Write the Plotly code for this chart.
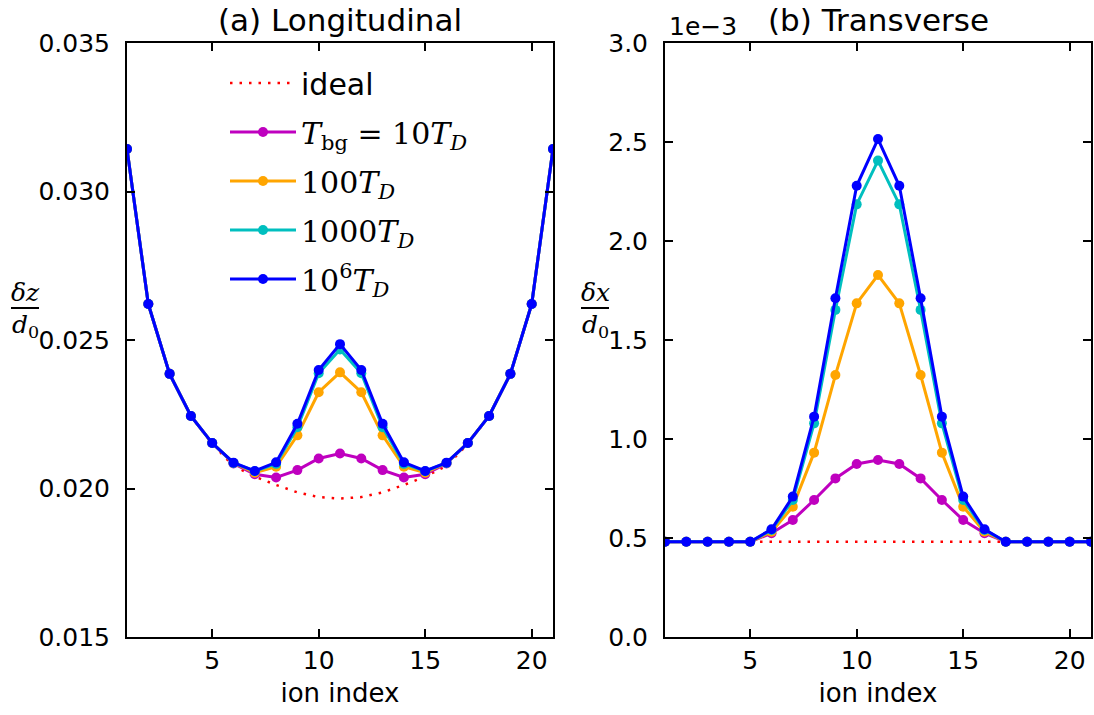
import plotly.graph_objects as go

W, H = 1094, 715

ion_index = list(range(1, 22))

# (a) Longitudinal: delta z / d0
long_ideal = [0.03143, 0.02621, 0.02386, 0.02244, 0.02150, 0.02076, 0.02040, 0.02012, 0.01987, 0.01971, 0.01966,
              0.01971, 0.01987, 0.02012, 0.02040, 0.02076, 0.02150, 0.02244, 0.02386, 0.02621, 0.03143]
long_10 = [0.03143, 0.02621, 0.02386, 0.02244, 0.02153, 0.02084, 0.02048, 0.02037, 0.02062, 0.02101, 0.02118,
           0.02101, 0.02062, 0.02037, 0.02048, 0.02084, 0.02153, 0.02244, 0.02386, 0.02621, 0.03143]
long_100 = [0.03143, 0.02621, 0.02386, 0.02244, 0.02153, 0.02086, 0.02053, 0.02073, 0.02179, 0.02324, 0.02391,
            0.02324, 0.02179, 0.02073, 0.02053, 0.02086, 0.02153, 0.02244, 0.02386, 0.02621, 0.03143]
long_1000 = [0.03143, 0.02621, 0.02386, 0.02244, 0.02153, 0.02086, 0.02058, 0.02083, 0.02206, 0.02388, 0.02468,
             0.02388, 0.02206, 0.02083, 0.02058, 0.02086, 0.02153, 0.02244, 0.02386, 0.02621, 0.03143]
long_1e6 = [0.03143, 0.02621, 0.02386, 0.02244, 0.02153, 0.02087, 0.02059, 0.02088, 0.02218, 0.02399, 0.02486,
            0.02399, 0.02218, 0.02088, 0.02059, 0.02087, 0.02153, 0.02244, 0.02386, 0.02621, 0.03143]

# (b) Transverse: delta x / d0, in units of 1e-3
trans_ideal = [0.481, 0.481, 0.481, 0.481, 0.481, 0.481, 0.481, 0.481, 0.481, 0.481, 0.481,
               0.481, 0.481, 0.481, 0.481, 0.481, 0.481, 0.481, 0.481, 0.481, 0.481]
trans_10 = [0.481, 0.481, 0.481, 0.481, 0.481, 0.524, 0.591, 0.692, 0.801, 0.874, 0.894,
            0.874, 0.801, 0.692, 0.591, 0.524, 0.481, 0.481, 0.481, 0.481, 0.481]
trans_100 = [0.481, 0.481, 0.481, 0.481, 0.481, 0.532, 0.658, 0.931, 1.323, 1.685, 1.828,
             1.685, 1.323, 0.931, 0.658, 0.532, 0.481, 0.481, 0.481, 0.481, 0.481]
trans_1000 = [0.481, 0.481, 0.481, 0.481, 0.481, 0.540, 0.692, 1.079, 1.652, 2.185, 2.406,
              2.185, 1.652, 1.079, 0.692, 0.540, 0.481, 0.481, 0.481, 0.481, 0.481]
trans_1e6 = [0.481, 0.481, 0.481, 0.481, 0.481, 0.544, 0.709, 1.113, 1.711, 2.279, 2.515,
             2.279, 1.711, 1.113, 0.709, 0.544, 0.481, 0.481, 0.481, 0.481, 0.481]

SERIF = "font-family:'DejaVu Serif'"
names = [
    "ideal",
    f"<span style=\"{SERIF}\"><i>T</i><sub>bg</sub> = 10<i>T</i><sub><i>D</i></sub></span>",
    f"<span style=\"{SERIF}\">100<i>T</i><sub><i>D</i></sub></span>",
    f"<span style=\"{SERIF}\">1000<i>T</i><sub><i>D</i></sub></span>",
    f"<span style=\"{SERIF}\">10<sup>6</sup><i>T</i><sub><i>D</i></sub></span>",
]
colors = ["#ff0000", "#bf00bf", "#ffa500", "#00bfbf", "#0000ff"]

long_series = [long_ideal, long_10, long_100, long_1000, long_1e6]
trans_series = [trans_ideal, trans_10, trans_100, trans_1000, trans_1e6]

fig = go.Figure()
for panel, series in enumerate([long_series, trans_series]):
    xa = "x" if panel == 0 else "x2"
    ya = "y" if panel == 0 else "y2"
    for i, (ys, nm, col) in enumerate(zip(series, names, colors)):
        if i == 0:
            fig.add_trace(go.Scatter(x=ion_index, y=ys, mode="lines", name=nm,
                                     line=dict(color=col, width=2.5, dash="2.5px,7px"),
                                     xaxis=xa, yaxis=ya, showlegend=(panel == 0),
                                     legendgroup=f"g{i}"))
        else:
            fig.add_trace(go.Scatter(x=ion_index, y=ys, mode="lines+markers", name=nm,
                                     line=dict(color=col, width=3),
                                     marker=dict(color=col, size=10),
                                     xaxis=xa, yaxis=ya, showlegend=(panel == 0),
                                     legendgroup=f"g{i}"))

ax_common = dict(showline=True, linecolor="black", linewidth=2, mirror="ticks",
                 ticks="inside", ticklen=8, tickwidth=1.5, tickcolor="black",
                 showgrid=False, zeroline=False, automargin=False,
                 tickfont=dict(family="DejaVu Sans", size=25, color="black"))
xtitle = dict(text="ion index", font=dict(family="DejaVu Sans", size=26, color="black"), standoff=10)

y0 = 1 - 637 / H
y1 = 1 - 43 / H
fig.update_layout(
    width=W, height=H, margin=dict(l=0, r=0, t=0, b=0, autoexpand=False),
    paper_bgcolor="white", plot_bgcolor="white",
    xaxis=dict(domain=[127 / W, 553 / W], range=[1, 21], tickvals=[5, 10, 15, 20],
               title=xtitle, anchor="y", **ax_common),
    yaxis=dict(domain=[y0, y1], range=[0.015, 0.035], dtick=0.005, tickformat=".3f",
               anchor="x", ticklabelstandoff=10, **ax_common),
    xaxis2=dict(domain=[665 / W, 1091 / W], range=[1, 21], tickvals=[5, 10, 15, 20],
                title=xtitle, anchor="y2", **ax_common),
    yaxis2=dict(domain=[y0, y1], range=[0, 3.0], dtick=0.5, tickformat=".1f",
                anchor="x2", ticklabelstandoff=10, **ax_common),
    legend=dict(x=225 / W, y=1 - 57 / H, xanchor="left", yanchor="top",
                bgcolor="rgba(0,0,0,0)", borderwidth=0,
                font=dict(family="DejaVu Sans", size=30, color="black"),
                tracegroupgap=7, itemwidth=66),
    showlegend=True,
)

ann_font = dict(family="DejaVu Sans", size=31, color="black")
fig.add_annotation(x=340 / W, y=1 - 20 / H, xref="paper", yref="paper", text="(a) Longitudinal",
                   showarrow=False, font=ann_font, xanchor="center", yanchor="middle")
fig.add_annotation(x=878 / W, y=1 - 20 / H, xref="paper", yref="paper", text="(b) Transverse",
                   showarrow=False, font=ann_font, xanchor="center", yanchor="middle")
fig.add_annotation(x=667 / W, y=1 - 27 / H, xref="paper", yref="paper", text="1e\u22123",
                   showarrow=False, font=dict(family="DejaVu Sans", size=25, color="black"),
                   xanchor="left", yanchor="middle")

# fraction-style y labels
frac_font = dict(family="DejaVu Serif", size=25, color="black")
for cx, num in [(25, "<i>δz</i>"), (595, "<i>δx</i>")]:
    fig.add_annotation(x=cx / W, y=1 - 292 / H, xref="paper", yref="paper", text=num,
                       showarrow=False, font=frac_font, xanchor="center", yanchor="middle")
    fig.add_annotation(x=cx / W, y=1 - 326 / H, xref="paper", yref="paper", text="<i>d</i><sub>0</sub>",
                       showarrow=False, font=frac_font, xanchor="center", yanchor="middle")
    fig.add_shape(type="line", xref="paper", yref="paper", x0=(cx - 14) / W, x1=(cx + 14) / W,
                  y0=1 - 308 / H, y1=1 - 308 / H, line=dict(color="black", width=2))

fig.write_html("out.html")
